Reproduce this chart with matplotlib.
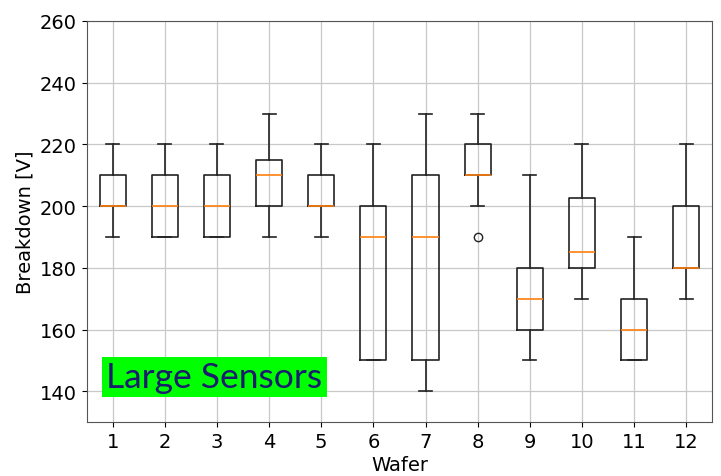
import numpy as np
import matplotlib.pyplot as plt

# box statistics per wafer
wafers = [1, 2, 3, 4, 5, 6, 7, 8, 9, 10, 11, 12]
whislo = [190, 190, 190, 190, 190, 150, 140, 200, 150, 170, 150, 170]
q1 = [200, 190, 190, 200, 200, 150, 150, 210, 160, 180, 150, 180]
med = [200, 200, 200, 210, 200, 190, 190, 210, 170, 185, 160, 180]
q3 = [210, 210, 210, 215, 210, 200, 210, 220, 180, 202.5, 170, 200]
whishi = [220, 220, 220, 230, 220, 220, 230, 230, 210, 220, 190, 220]
fliers = [[], [], [], [], [], [], [], [190], [], [], [], []]

stats = []
for i in range(len(wafers)):
    stats.append({'label': str(wafers[i]), 'whislo': whislo[i], 'q1': q1[i],
                  'med': med[i], 'q3': q3[i], 'whishi': whishi[i],
                  'fliers': fliers[i]})

fig, ax = plt.subplots(figsize=(7.21, 4.77), dpi=100)
ax.bxp(stats, positions=wafers, widths=0.5,
       boxprops=dict(color='#222222', linewidth=1.2),
       whiskerprops=dict(color='#222222', linewidth=1.2),
       capprops=dict(color='#222222', linewidth=1.2),
       medianprops=dict(color='#ff7f0e', linewidth=1.2),
       flierprops=dict(marker='o', markerfacecolor='none',
                       markeredgecolor='#222222', markersize=6))

ax.set_ylim(130, 260)
ax.set_xlim(0.5, 12.5)
ax.set_yticks(np.arange(140, 261, 20))
ax.grid(True, color='#c8c8c8', linewidth=0.9)
ax.set_axisbelow(True)
ax.tick_params(labelsize=14)
for s in ax.spines.values():
    s.set_color('#555555')
ax.set_xlabel('Wafer', fontsize=14, labelpad=3)
ax.set_ylabel('Breakdown [V]', fontsize=14, labelpad=4)

ax.text(0.88, 144.6, 'Large Sensors', fontsize=25.5, family='Lato',
        color='#1c1c6e', va='center', ha='left',
        bbox=dict(boxstyle='square,pad=0.12', facecolor='#00ff00',
                  edgecolor='none'))

plt.subplots_adjust(left=0.12, right=0.988, top=0.954, bottom=0.113)
plt.savefig('out.png', dpi=100)
